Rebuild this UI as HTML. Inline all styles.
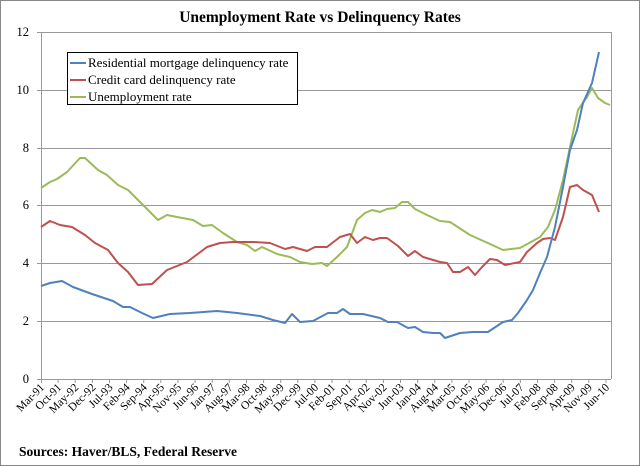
<!DOCTYPE html>
<html><head><meta charset="utf-8"><style>
body{margin:0;background:#fff}
svg{display:block;font-family:"Liberation Serif",serif}
</style></head><body>
<svg width="640" height="466" viewBox="0 0 640 466">
<rect x="0.5" y="0.5" width="639" height="465" fill="#fff" stroke="#888"/>
<text x="320" y="22" text-anchor="middle" font-size="15.5" font-weight="bold">Unemployment Rate vs Delinquency Rates</text>
<g stroke="#999" stroke-width="1">
<line x1="37" y1="32.5" x2="611" y2="32.5"/>
<line x1="37" y1="90.5" x2="611" y2="90.5"/>
<line x1="37" y1="148.5" x2="611" y2="148.5"/>
<line x1="37" y1="205.5" x2="611" y2="205.5"/>
<line x1="37" y1="263.5" x2="611" y2="263.5"/>
<line x1="37" y1="321.5" x2="611" y2="321.5"/>
<line x1="41.5" y1="32" x2="41.5" y2="379"/>
<line x1="611.5" y1="32" x2="611.5" y2="379"/>
<line x1="37" y1="379.5" x2="611" y2="379.5"/>
</g>
<g font-size="12.5" text-anchor="end">
<text x="29" y="36">12</text><text x="29" y="94">10</text><text x="29" y="152">8</text>
<text x="29" y="209">6</text><text x="29" y="267">4</text><text x="29" y="325">2</text><text x="29" y="383">0</text>
</g>
<path stroke="#999" fill="none" d="M41.5 379v4M58.1 379v4M75.2 379v4M92.4 379v4M109.5 379v4M126.6 379v4M143.7 379v4M160.8 379v4M178 379v4M195.1 379v4M212.2 379v4M229.3 379v4M246.5 379v4M263.6 379v4M280.7 379v4M297.8 379v4M314.9 379v4M332 379v4M349.2 379v4M366.3 379v4M383.4 379v4M400.5 379v4M417.7 379v4M434.8 379v4M451.9 379v4M469 379v4M486.1 379v4M503.2 379v4M520.4 379v4M537.5 379v4M554.6 379v4M571.7 379v4M588.8 379v4M606 379v4"/>
<g font-size="11.5" text-anchor="end">
<text transform="translate(45,388) rotate(-45)">Mar-91</text>
<text transform="translate(62.1,388) rotate(-45)">Oct-91</text>
<text transform="translate(79.2,388) rotate(-45)">May-92</text>
<text transform="translate(96.4,388) rotate(-45)">Dec-92</text>
<text transform="translate(113.5,388) rotate(-45)">Jul-93</text>
<text transform="translate(130.6,388) rotate(-45)">Feb-94</text>
<text transform="translate(147.7,388) rotate(-45)">Sep-94</text>
<text transform="translate(164.8,388) rotate(-45)">Apr-95</text>
<text transform="translate(182,388) rotate(-45)">Nov-95</text>
<text transform="translate(199.1,388) rotate(-45)">Jun-96</text>
<text transform="translate(216.2,388) rotate(-45)">Jan-97</text>
<text transform="translate(233.3,388) rotate(-45)">Aug-97</text>
<text transform="translate(250.5,388) rotate(-45)">Mar-98</text>
<text transform="translate(267.6,388) rotate(-45)">Oct-98</text>
<text transform="translate(284.7,388) rotate(-45)">May-99</text>
<text transform="translate(301.8,388) rotate(-45)">Dec-99</text>
<text transform="translate(318.9,388) rotate(-45)">Jul-00</text>
<text transform="translate(336,388) rotate(-45)">Feb-01</text>
<text transform="translate(353.2,388) rotate(-45)">Sep-01</text>
<text transform="translate(370.3,388) rotate(-45)">Apr-02</text>
<text transform="translate(387.4,388) rotate(-45)">Nov-02</text>
<text transform="translate(404.5,388) rotate(-45)">Jun-03</text>
<text transform="translate(421.7,388) rotate(-45)">Jan-04</text>
<text transform="translate(438.8,388) rotate(-45)">Aug-04</text>
<text transform="translate(455.9,388) rotate(-45)">Mar-05</text>
<text transform="translate(473,388) rotate(-45)">Oct-05</text>
<text transform="translate(490.1,388) rotate(-45)">May-06</text>
<text transform="translate(507.2,388) rotate(-45)">Dec-06</text>
<text transform="translate(524.4,388) rotate(-45)">Jul-07</text>
<text transform="translate(541.5,388) rotate(-45)">Feb-08</text>
<text transform="translate(558.6,388) rotate(-45)">Sep-08</text>
<text transform="translate(575.7,388) rotate(-45)">Apr-09</text>
<text transform="translate(592.8,388) rotate(-45)">Nov-09</text>
<text transform="translate(610,388) rotate(-45)">Jun-10</text>
</g>
<g fill="none" stroke-width="2" stroke-linejoin="round">
<polyline stroke="#9bbb59" points="41,188 50,182 57,179 67,172 80,158 85,158 98,170 107,175 118,185 128,190 140,202 148,210 158,220 167,215 177,217 193,220 203,226 212,225 223,233 237,242 247,245 255,251 262,247 277,254 290,257 300,262 312,264 322,263 327,266 337,257 347,247 357,220 365,213 372,210 380,212 387,209 395,208 402,202 408,202 415,209 427,215 440,221 450,222 470,235 490,244 503,250 520,248 540,237 548,227 555,210 563,180 570,147 578,110 587,97 592,88 598,98 605,103 610,105"/>
<polyline stroke="#c0504d" points="41,227 50,221 60,225 72,227 85,235 95,243 108,250 118,263 128,272 138,285 152,284 167,270 187,262 207,247 220,243 233,242 253,242 270,243 285,249 293,247 307,251 315,247 327,247 340,237 350,234 357,243 365,237 373,240 380,238 387,238 398,246 408,256 415,251 423,257 440,262 447,263 453,272 460,272 468,267 475,275 482,267 490,259 497,260 505,265 520,262 527,252 537,243 543,239 550,238 555,240 563,217 570,187 577,185 583,190 592,195 599,212"/>
<polyline stroke="#4f81bd" points="41,286 50,283 62,281 73,287 92,294 113,301 123,307 130,307 142,313 153,318 170,314 190,313 217,311 237,313 260,316 273,320 285,323 292,314 300,322 313,321 328,313 337,313 343,309 350,314 363,314 380,318 388,322 397,322 408,328 415,327 423,332 433,333 440,333 445,338 460,333 473,332 488,332 503,322 512,320 518,313 527,300 533,290 540,273 547,257 555,227 563,187 570,150 577,130 583,103 592,83 599,52"/>
</g>
<rect x="67.5" y="52.5" width="230" height="52" fill="#fff" stroke="#000"/>
<g stroke-width="2"><line x1="70" y1="63" x2="86" y2="63" stroke="#4f81bd"/><line x1="70" y1="80" x2="86" y2="80" stroke="#c0504d"/><line x1="70" y1="97" x2="86" y2="97" stroke="#9bbb59"/></g>
<g font-size="13"><text x="88" y="67">Residential mortgage delinquency rate</text><text x="88" y="84">Credit card delinquency rate</text><text x="88" y="101">Unemployment rate</text></g>
<text x="19" y="456" font-size="13.5" font-weight="bold">Sources: Haver/BLS, Federal Reserve</text>
</svg>
</body></html>
